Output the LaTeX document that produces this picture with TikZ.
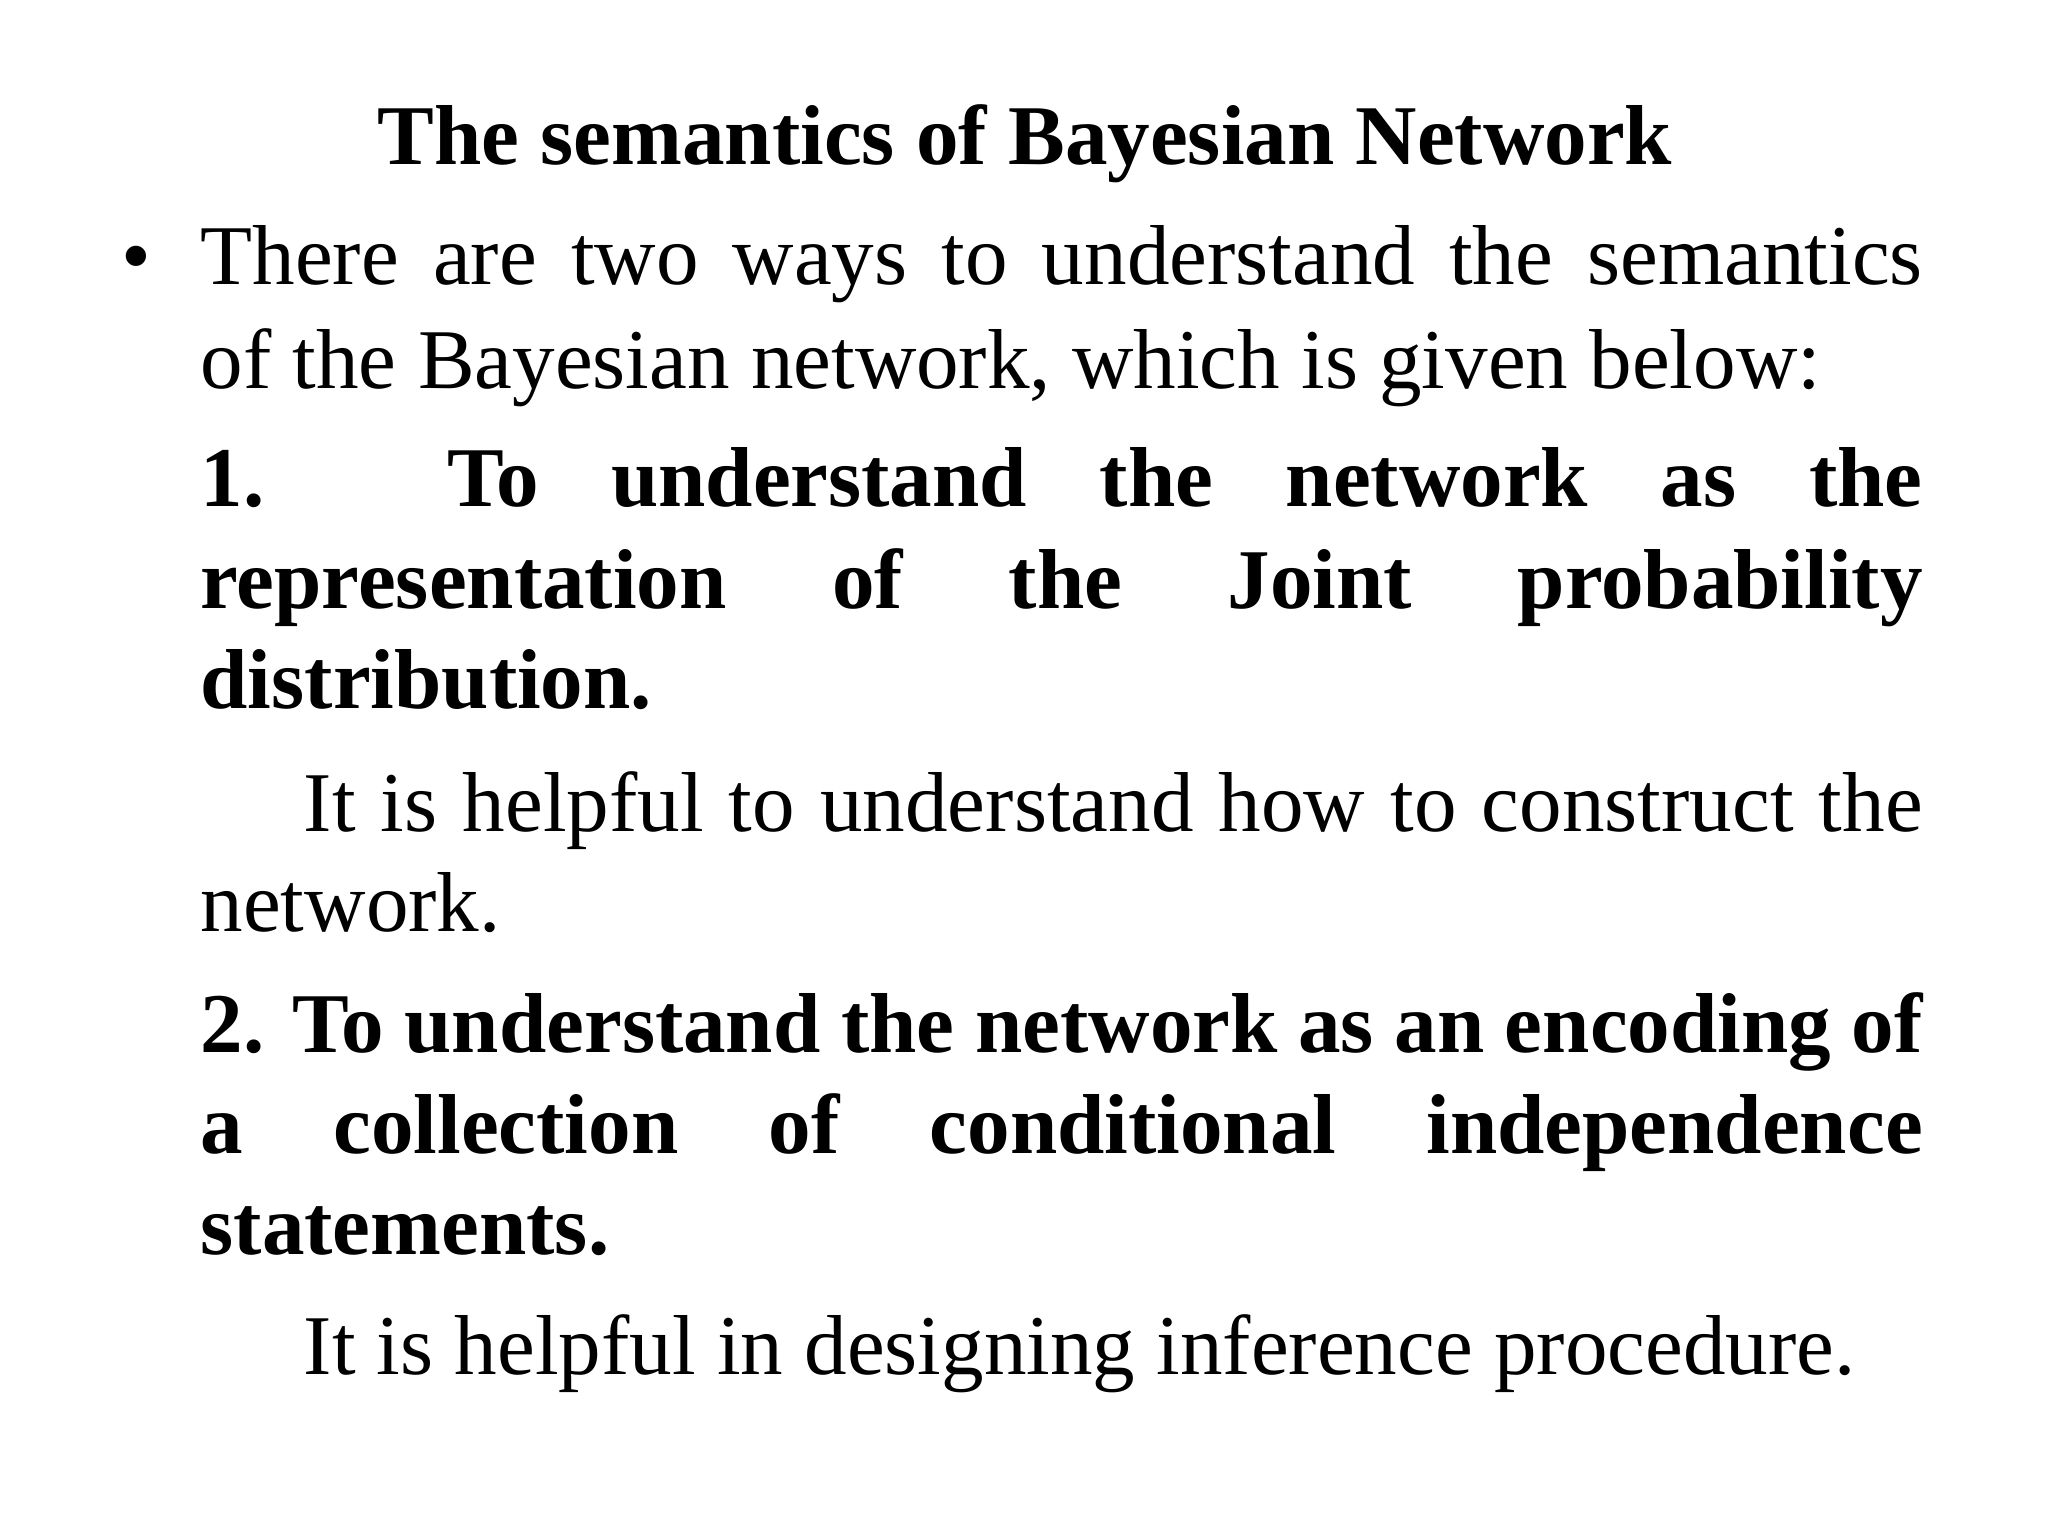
\documentclass[tikz,border=0pt]{standalone}
\usepackage{fontspec}
\setmainfont{Liberation Serif}
\begin{document}
\begin{tikzpicture}[
  txt/.style={inner sep=0pt, anchor=base west, font=\fontsize{24.2}{30}\selectfont},
  bld/.style={txt, font=\fontsize{24.2}{30}\selectfont\bfseries}]
\useasboundingbox (0,0) rectangle (20.48,15.36);
\newcommand{\jl}[1]{\makebox[17.22cm][s]{#1}}
\newcommand{\jm}[1]{\makebox[16.19cm][s]{#1}}
\node[inner sep=0pt, anchor=base, font=\fontsize{24.2}{30}\selectfont\bfseries] (title) at (10.25,13.71) {The semantics of Bayesian Network};
\node[txt, anchor=base] (bul) at (1.36,12.51) {•};
\node[txt] (l1) at (2.0,12.51) {\jl{There are two ways to understand the semantics}};
\node[txt] (l2) at (2.0,11.47) {of the Bayesian network, which is given below:};
\node[bld] (l3) at (2.0,10.29) {\jl{1. To understand the network as the}};
\node[bld] (l4) at (2.0,9.27) {\jl{representation of the Joint probability}};
\node[bld] (l5) at (2.0,8.27) {distribution.};
\node[txt] (l6) at (3.03,7.04) {\jm{It is helpful to understand how to construct the}};
\node[txt] (l7) at (2.0,6.04) {network.};
\node[bld] (l8) at (2.0,4.83) {\jl{2. To understand the network as an encoding of}};
\node[bld] (l9) at (2.0,3.82) {\jl{a collection of conditional independence}};
\node[bld] (l10) at (2.0,2.81) {statements.};
\node[txt] (l11) at (3.03,1.61) {It is helpful in designing inference procedure.};
\end{tikzpicture}
\end{document}
